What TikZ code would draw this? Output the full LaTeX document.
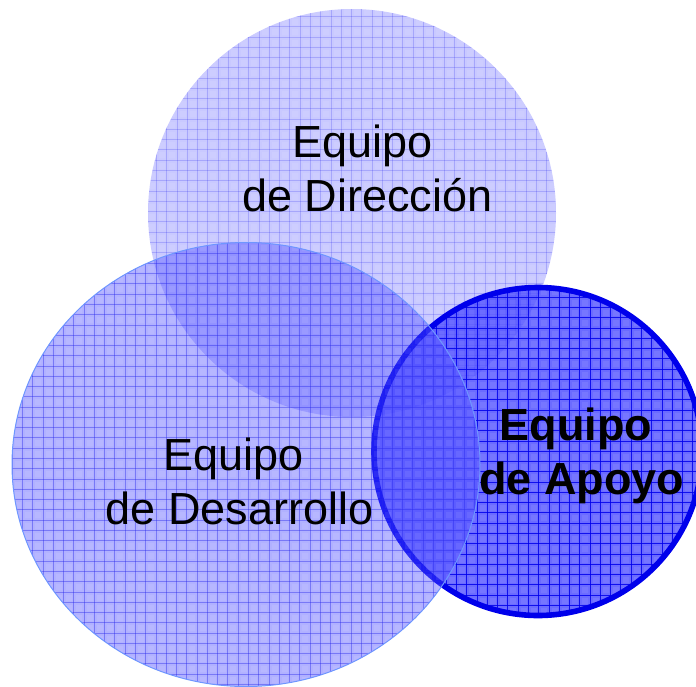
\documentclass[tikz,border=0pt]{standalone}
\usepackage{fontspec}
\setmainfont{Liberation Sans}
\definecolor{edgeblue}{RGB}{110,150,255}
\definecolor{ringblue}{RGB}{0,0,235}
\definecolor{fillblue}{RGB}{70,70,255}
\definecolor{gridblue}{RGB}{40,40,235}
\definecolor{gridstrong}{RGB}{0,0,235}
\tikzset{
  lbl/.style={font=\fontsize{33.75}{40.5}\selectfont, align=center, text=black, inner sep=0pt},
  team/.style={fill=fillblue},
}
\newcommand{\gridlines}[4]{%
  \foreach \k in {-34,...,34} {
    \pgfmathsetmacro{\gx}{round(#1+\k*10.27)+0.5}
    \pgfmathsetmacro{\gy}{round(#2+\k*10.27)+0.5}
    \draw[#3, line width=0.75pt, opacity=#4] (\gx,0) -- (\gx,-720);
    \draw[#3, line width=0.75pt, opacity=#4] (-10,-\gy) -- (720,-\gy);
  }%
}
% pale centre of every grid cell
\newcommand{\cellcentres}[3]{%
  \fill[white, opacity=#3]
    \foreach \i in {-24,...,24} {
      \foreach \j in {-24,...,24} {
        ({round(#1+\i*10.27)+3},{-(round(#2+\j*10.27)+3)}) rectangle +(6,-6)
      }
    };%
}
\begin{document}
\begin{tikzpicture}[x=0.75pt,y=0.75pt]
\useasboundingbox (0,0) rectangle (696,-686);
\clip (0,0) rectangle (696,-686);
% top circle
\fill[team, fill opacity=0.29] (352,-213) circle[radius=204];
\begin{scope}
  \clip (352,-213) circle[radius=204];
  \begin{scope}[even odd rule]
  \clip (-20,20) rectangle (720,-720) (246,-464.5) ellipse[x radius=234, y radius=222];
  \cellcentres{351.1}{211.1}{0.07}
  \gridlines{351.1}{211.1}{gridblue}{0.22}
  \end{scope}
\end{scope}
% right circle
\fill[team, fill opacity=0.8] (538,-451.5) circle[radius=166];
\begin{scope}
  \clip (538,-451.5) circle[radius=166];
  \begin{scope}[even odd rule]
  \clip (-20,20) rectangle (720,-720) (246,-464.5) ellipse[x radius=234, y radius=222];
  \cellcentres{538.3}{450.8}{0.08}
  \gridlines{538.3}{450.8}{gridstrong}{0.85}
  \end{scope}
\end{scope}
\draw[ringblue, line width=4.2pt] (538,-451.5) circle[radius=164];
% left ellipse
\fill[team, fill opacity=0.42] (246,-464.5) ellipse[x radius=234, y radius=222];
\begin{scope}
  \clip (246,-464.5) ellipse[x radius=234, y radius=222];
  \cellcentres{248}{468.3}{0.07}
  \gridlines{248}{468.3}{gridblue}{0.42}
\end{scope}
\draw[edgeblue, line width=0.75pt] (246,-464.5) ellipse[x radius=234, y radius=222];
% labels
\node[lbl] (dir) at (367.5,-168) {Equipo\hspace*{8pt}\\de Dirección};
\node[lbl] (des) at (239.5,-481.5) {Equipo\hspace*{9pt}\\de Desarrollo};
\node[lbl, font=\fontsize{33.75}{40.5}\selectfont\bfseries] (apo) at (582,-455.5) {Equipo\hspace*{9pt}\\de Apoyo};
\end{tikzpicture}
\end{document}
